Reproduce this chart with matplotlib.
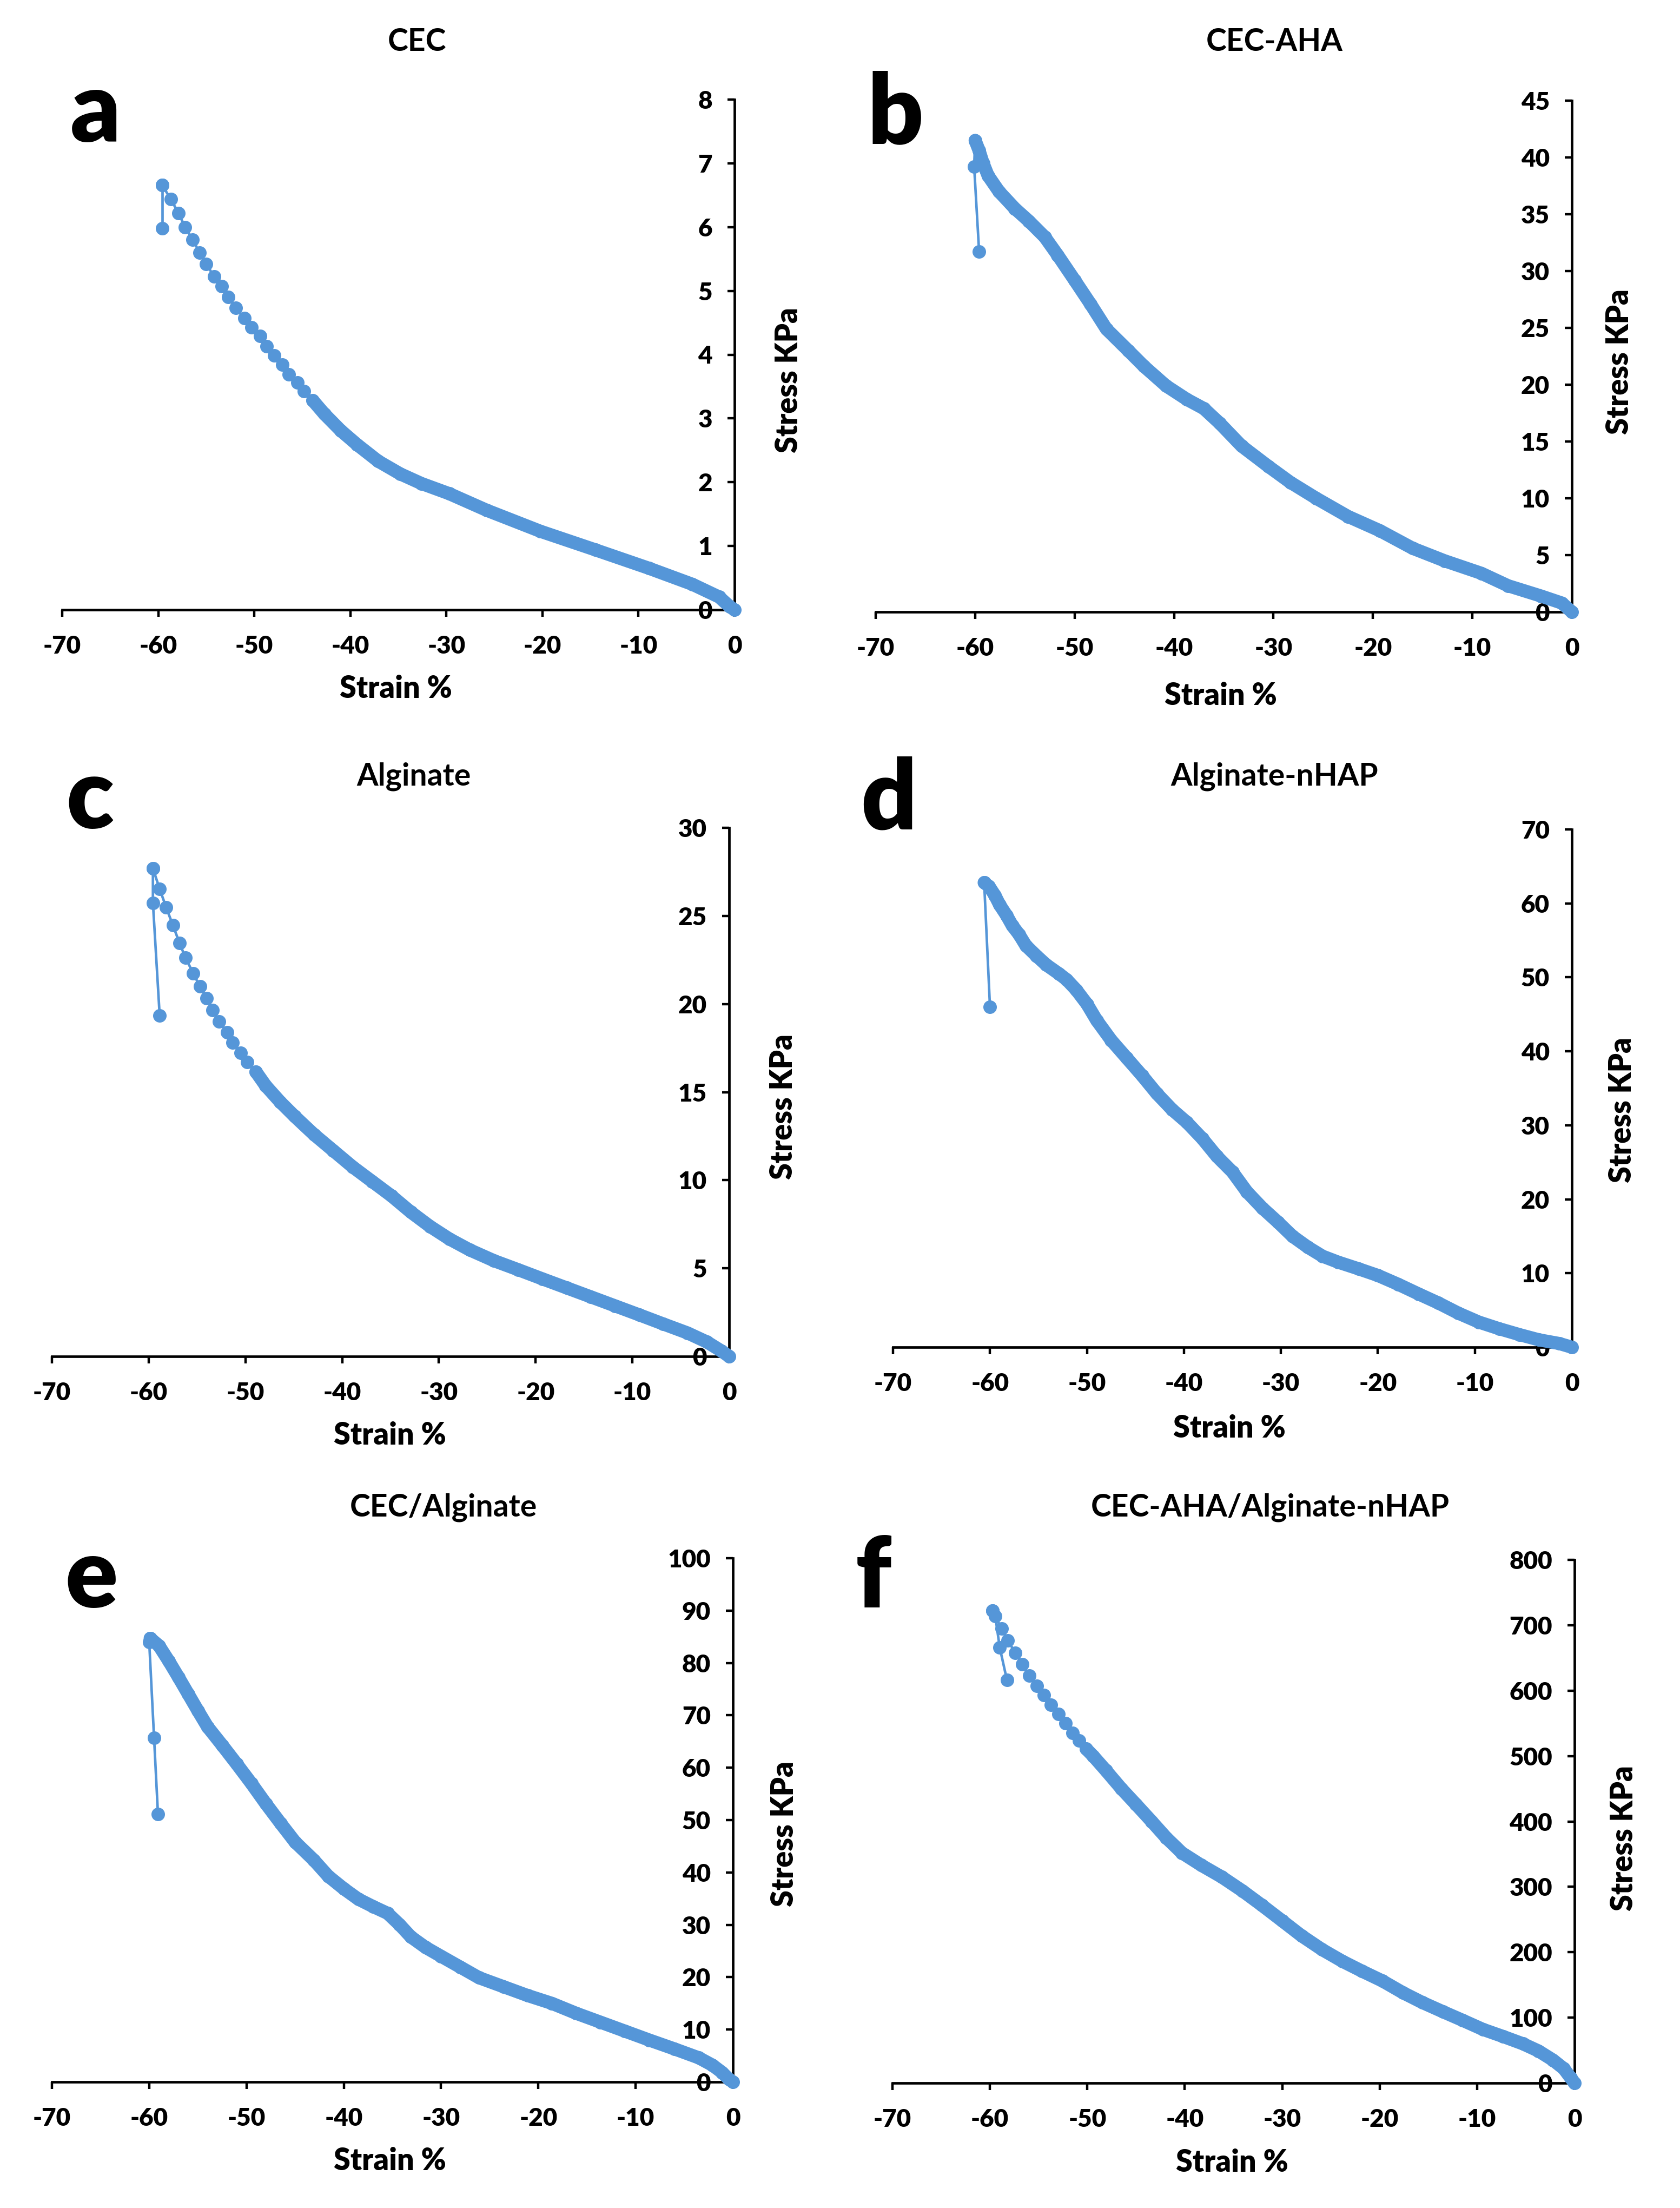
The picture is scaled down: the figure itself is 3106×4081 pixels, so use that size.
import numpy as np
import matplotlib
matplotlib.use("Agg")
from matplotlib import pyplot as plt

plt.rcParams['font.family'] = ['Lato', 'DejaVu Sans']
plt.rcParams['font.weight'] = 'bold'
plt.rcParams['axes.unicode_minus'] = False

W, H = 3106, 4081
BLUE = '#5596D8'

# ---- data (strain %, stress KPa) ----
# loading branch runs from 0 to the peak, unloading from the peak downwards

a_load_strain = [0, -0.5, -1.6, -4.4, -8.9, -14.5, -20.2, -25.8, -29.7, -32.6, -34.8,
                 -37.1, -39.3, -41.0, -42.7, -43.9, -44.8, -45.5, -46.4, -47.1, -47.9,
                 -48.7, -49.4, -50.3, -51.0, -51.9, -52.7, -53.4, -54.2, -55.0, -55.7,
                 -56.4, -57.2, -57.9, -58.7, -59.6]
a_load_stress = [0, 0.05, 0.2, 0.4, 0.65, 0.94, 1.23, 1.56, 1.82, 1.98, 2.13,
                 2.33, 2.59, 2.81, 3.07, 3.28, 3.43, 3.56, 3.69, 3.84, 3.99,
                 4.13, 4.29, 4.43, 4.57, 4.73, 4.90, 5.07, 5.23, 5.42, 5.60,
                 5.80, 6.00, 6.22, 6.44, 6.66]
a_unload_strain = [-59.6, -59.6]
a_unload_stress = [6.66, 5.98]

b_load_strain = [0, -1.0, -3.1, -6.4, -9.1, -12.8, -16.0, -19.3, -22.5, -25.7, -28.3,
                 -30.5, -33.2, -35.4, -37.0, -38.7, -40.8, -43.0, -44.6, -46.8, -48.4,
                 -50.0, -51.7, -53.0, -54.6, -56.0, -57.6, -58.7, -59.2, -59.6, -60.0]
b_load_stress = [0, 0.78, 1.4, 2.3, 3.4, 4.5, 5.6, 7.15, 8.4, 10.0, 11.4,
                 12.8, 14.6, 16.6, 17.9, 18.7, 19.9, 21.6, 23.0, 24.9, 27.1,
                 29.2, 31.4, 33.0, 34.4, 35.5, 37.0, 38.4, 39.5, 40.6, 41.5]
b_unload_strain = [-60.0, -60.1, -59.6]
b_unload_stress = [41.5, 39.2, 31.7]

c_load_strain = [0, -0.8, -2.3, -4.3, -6.8, -9.3, -11.8, -14.3, -16.8, -19.3, -21.8,
                 -24.3, -26.8, -28.9, -30.9, -32.9, -34.9, -36.9, -38.9, -40.9, -42.9,
                 -44.9, -46.4, -47.9, -48.9, -49.8, -50.5, -51.3, -51.9, -52.7, -53.4,
                 -54.0, -54.7, -55.4, -56.2, -56.8, -57.5, -58.2, -58.86, -59.56]
c_load_stress = [0, 0.31, 0.82, 1.33, 1.84, 2.36, 2.87, 3.38, 3.89, 4.40, 4.92,
                 5.43, 6.04, 6.66, 7.37, 8.19, 9.11, 9.93, 10.75, 11.67, 12.59,
                 13.62, 14.44, 15.36, 16.14, 16.69, 17.24, 17.82, 18.39, 19.0, 19.66,
                 20.32, 20.99, 21.75, 22.63, 23.45, 24.47, 25.5, 26.52, 27.69]
c_unload_strain = [-59.56, -59.56, -58.86]
c_unload_stress = [27.69, 25.74, 19.33]

d_load_strain = [0, -1.3, -3.4, -5.4, -7.5, -9.6, -11.7, -13.8, -15.8, -17.9, -20.0,
                 -22.0, -24.1, -25.7, -27.2, -28.8, -30.3, -31.9, -33.5, -35.0, -36.6,
                 -38.1, -39.7, -41.2, -42.8, -44.3, -45.9, -47.5, -49.0, -50.0, -51.1,
                 -52.1, -52.9, -54.2, -55.2, -56.3, -57.0, -57.7, -58.3, -59.0, -59.5,
                 -60.1, -60.6]
d_load_stress = [0, 0.5, 1.0, 1.7, 2.5, 3.4, 4.6, 6.0, 7.2, 8.5, 9.7,
                 10.6, 11.5, 12.3, 13.5, 15.0, 16.9, 18.8, 21.0, 23.7, 25.8,
                 28.2, 30.4, 32.1, 34.3, 36.7, 39.1, 41.5, 44.2, 46.4, 48.3,
                 49.7, 50.5, 51.7, 52.9, 54.3, 55.8, 57.0, 58.4, 59.8, 61.1,
                 62.3, 62.8]
d_unload_strain = [-60.6, -60.0]
d_unload_stress = [62.8, 46.0]

e_load_strain = [0, -0.4, -1.1, -2.1, -3.5, -6.0, -8.6, -11.1, -13.6, -16.1, -18.6,
                 -21.1, -23.6, -26.1, -28.0, -30.0, -31.6, -33.1, -34.3, -35.5, -37.0,
                 -38.5, -40.0, -41.6, -43.1, -45.0, -46.5, -48.0, -49.5, -51.0, -52.5,
                 -54.0, -55.0, -56.0, -57.0, -58.0, -59.0, -59.9]
e_load_stress = [0, 0.5, 1.8, 3.2, 4.6, 6.3, 8.0, 9.7, 11.4, 13.1, 15.0,
                 16.5, 18.2, 19.9, 21.9, 24.0, 25.7, 27.7, 30.1, 32.2, 33.5,
                 34.9, 36.9, 39.3, 42.4, 45.8, 49.4, 53.1, 57.0, 60.7, 64.3,
                 67.8, 70.9, 74.1, 77.3, 80.4, 83.3, 84.7]
e_unload_strain = [-59.9, -60.0, -59.5, -59.1]
e_unload_stress = [84.7, 84.0, 65.7, 51.1]

f_load_strain = [0, -0.4, -1.1, -2.2, -3.7, -5.3, -7.3, -9.4, -11.5, -13.5, -15.6,
                 -17.6, -19.7, -21.8, -23.8, -25.9, -28.0, -30.0, -32.1, -34.1, -36.2,
                 -38.3, -40.3, -41.9, -43.4, -45.0, -46.5, -48.1, -49.4, -50.12, -50.84,
                 -51.49, -52.23, -52.97, -53.71, -54.45, -55.19, -55.93, -56.67, -57.41,
                 -58.16, -58.80, -59.73]
f_load_stress = [0, 8, 22, 35, 49, 60, 71, 82, 96, 109, 123,
                 138, 156, 171, 186, 204, 225, 248, 272, 294, 315,
                 333, 352, 375, 400, 426, 450, 478, 500, 511, 524,
                 535, 550, 564, 578, 593, 607, 623, 640, 658,
                 677, 695, 722]
f_unload_strain = [-59.73, -59.45, -58.99, -58.25]
f_unload_stress = [722, 714, 666, 616]

titles = ['CEC', 'CEC-AHA', 'Alginate', 'Alginate-nHAP', 'CEC/Alginate',
          'CEC-AHA/Alginate-nHAP']
letters = ['a', 'b', 'c', 'd', 'e', 'f']
y_max = [8, 45, 30, 70, 100, 800]
y_step = [1, 5, 5, 10, 10, 100]
x_ticks = [-70, -60, -50, -40, -30, -20, -10, 0]

series = [
    (a_load_strain, a_load_stress, a_unload_strain, a_unload_stress),
    (b_load_strain, b_load_stress, b_unload_strain, b_unload_stress),
    (c_load_strain, c_load_stress, c_unload_strain, c_unload_stress),
    (d_load_strain, d_load_stress, d_unload_strain, d_unload_stress),
    (e_load_strain, e_load_stress, e_unload_strain, e_unload_stress),
    (f_load_strain, f_load_stress, f_unload_strain, f_unload_stress),
]

# ---- layout in pixels of the full image (x0, x1, y_top, y_bottom) ----
boxes = [(115, 1358, 184, 1127), (1619, 2906, 186, 1131),
         (96, 1348, 1530, 2507), (1651, 2906, 1533, 2490),
         (96, 1355, 2880, 3848), (1650, 2911, 2883, 3850)]
title_pos = [(771, 78), (2356, 78), (765, 1435), (2356, 1435), (820, 2786), (2348, 2786)]
letter_pos = [(177, 262), (1655, 265), (166, 1531), (1643, 1533), (169, 2971), (1615, 2971)]
xlab_pos = [(732, 1273), (2257, 1286), (721, 2653), (2273, 2640), (721, 3994), (2278, 3997)]
ylab_pos = [(1458, 703), (2994, 669), (1448, 2046), (2999, 2052), (1450, 3390), (3002, 3398)]
# below this strain the markers stand apart, above it they merge into a band
bead_limit = [-44.0, -100, -49.0, -100, -100, -50.2]


def fx(x):
    return x / W


def fy(y):
    return 1 - y / H


fig = plt.figure(figsize=(W / 100, H / 100), dpi=100)
fig.patch.set_facecolor('white')

for i in range(6):
    x0, x1, y0, y1 = boxes[i]
    ax = fig.add_axes([fx(x0), fy(y1), (x1 - x0) / W, (y1 - y0) / H])
    ls, lst, us, ust = series[i]
    ls = np.array(ls)
    lst = np.array(lst)

    dense = ls >= bead_limit[i]
    ax.plot(ls[dense], lst[dense], '-', color=BLUE, lw=17.5,
            solid_capstyle='round', solid_joinstyle='round', clip_on=False, zorder=3)
    ax.plot(ls, lst, '-o', color=BLUE, lw=3.4, ms=17, mec=BLUE, mew=1,
            clip_on=False, zorder=4)
    ax.plot(us, ust, '-o', color=BLUE, lw=3.4, ms=17, mec=BLUE, mew=1,
            clip_on=False, zorder=4)

    ax.set_xlim(-70, 0)
    ax.set_ylim(0, y_max[i])
    ax.set_xticks(x_ticks)
    yt = np.arange(0, y_max[i] + y_step[i] / 2, y_step[i])
    ax.set_yticks(yt)
    ax.set_yticklabels([str(int(v)) for v in yt])

    ax.spines['top'].set_visible(False)
    ax.spines['right'].set_visible(False)
    ax.spines['left'].set_position(('axes', 1.0))
    for s in ['left', 'bottom']:
        ax.spines[s].set_linewidth(3.4)
        ax.spines[s].set_zorder(2)
    ax.tick_params(axis='both', direction='out', length=9.5, width=3.2,
                   labelsize=33, colors='black')
    ax.tick_params(axis='y', pad=20)
    ax.tick_params(axis='x', pad=24)
    for lab in ax.get_xticklabels() + ax.get_yticklabels():
        lab.set_fontweight('heavy')
    ax.patch.set_alpha(0)

    fig.text(fx(title_pos[i][0]), fy(title_pos[i][1]), titles[i], ha='center',
             va='center', fontsize=41, fontweight='bold')
    fig.text(fx(letter_pos[i][0]), fy(letter_pos[i][1]), letters[i], ha='center',
             va='baseline', fontsize=130, fontweight='heavy')
    fig.text(fx(xlab_pos[i][0]), fy(xlab_pos[i][1]), 'Strain %', ha='center',
             va='center', fontsize=40, fontweight='heavy')
    fig.text(fx(ylab_pos[i][0]), fy(ylab_pos[i][1]), 'Stress KPa', ha='center',
             va='center', rotation=90, fontsize=40, fontweight='heavy')

fig.savefig('out.png', dpi=100, facecolor='white')
